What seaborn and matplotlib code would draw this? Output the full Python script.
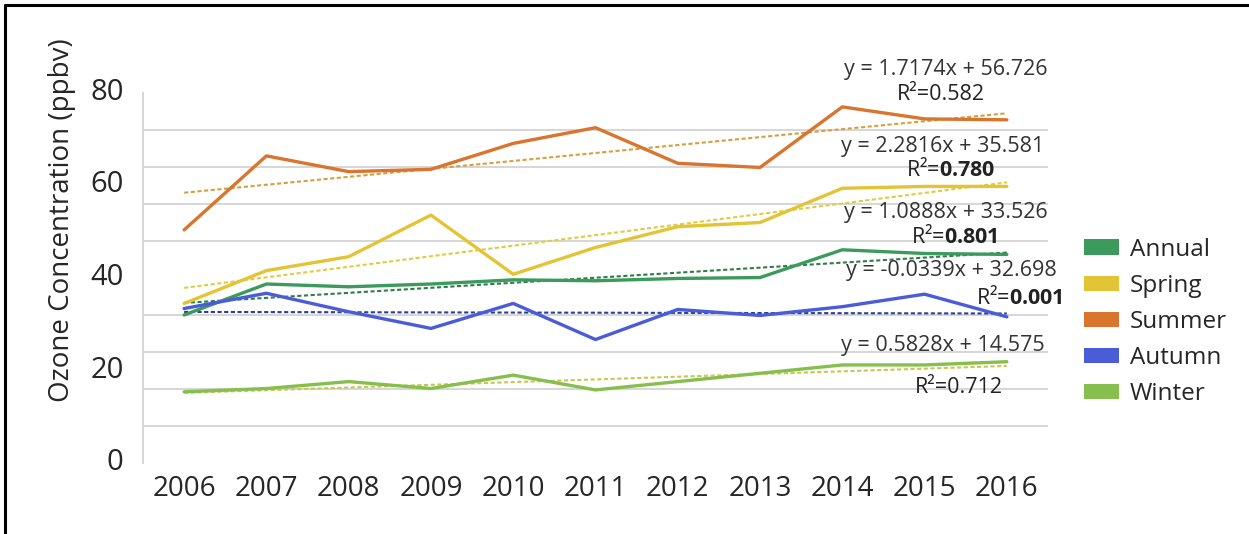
import numpy as np
import pandas as pd
import matplotlib
matplotlib.use("Agg")
import matplotlib.pyplot as plt
import matplotlib.transforms as mtransforms
from matplotlib.patches import Patch
from matplotlib.lines import Line2D
import seaborn as sns

years = [2006, 2007, 2008, 2009, 2010, 2011, 2012, 2013, 2014, 2015, 2016]
annual = [32.0, 38.7, 38.1, 38.7, 39.6, 39.4, 39.9, 40.1, 46.1, 45.3, 45.1]
spring = [34.5, 41.6, 44.6, 53.6, 40.8, 46.6, 51.1, 52.0, 59.4, 59.8, 59.8]
summer = [50.4, 66.4, 63.0, 63.5, 69.1, 72.5, 64.8, 63.9, 77.0, 74.4, 74.2]
autumn = [33.4, 36.7, 32.7, 29.1, 34.5, 26.7, 33.2, 31.9, 33.8, 36.5, 31.6]
winter = [15.4, 16.1, 17.6, 16.1, 19.0, 15.8, 17.6, 19.4, 21.2, 21.2, 21.9]

seasons = ["Annual", "Spring", "Summer", "Autumn", "Winter"]
slopes = [1.0888, 2.2816, 1.7174, -0.0339, 0.5828]
intercepts = [33.526, 35.581, 56.726, 32.698, 14.575]
r2_values = ["0.801", "0.780", "0.582", "0.001", "0.712"]
eq_labels = ["y = 1.0888x + 33.526", "y = 2.2816x + 35.581", "y = 1.7174x + 56.726",
             "y = -0.0339x + 32.698", "y = 0.5828x + 14.575"]

line_colors = ["#3c9a5c", "#e3c435", "#d9752e", "#4a5cd8", "#86bf4e"]
trend_colors = ["#2e7d4a", "#e0cc40", "#d4a040", "#2a3f9a", "#c8c850"]

sns.set_theme(style="white")
plt.rcParams["font.family"] = ["Open Sans", "DejaVu Sans"]
plt.rcParams["mathtext.fontset"] = "custom"
plt.rcParams["mathtext.rm"] = "Open Sans"
plt.rcParams["mathtext.bf"] = "Open Sans:bold"

df = pd.DataFrame({"Year": years * 5,
                   "Season": np.repeat(seasons, len(years)),
                   "Value": annual + spring + summer + autumn + winter})

fig = plt.figure(figsize=(12.49, 5.34), dpi=100)
ax = fig.add_axes([143 / 1249, 1 - 463 / 534, (1048 - 143) / 1249, (463 - 93) / 534])

ax.set_ylim(0, 80)
ax.set_xlim(2005.5, 2016.5)

# trendlines
xs = np.array(years)
for s, m, b, c in zip(seasons, slopes, intercepts, trend_colors):
    ax.plot(xs, m * (xs - 2005) + b, color=c, lw=1.5, ls=(0, (2, 1.2)), zorder=2)

sns.lineplot(data=df, x="Year", y="Value", hue="Season", palette=dict(zip(seasons, line_colors)),
             linewidth=2.4, legend=False, ax=ax, zorder=3, estimator=None)

ax.set_xticks(years)
ax.set_xticklabels([str(y) for y in years], fontsize=20, color="#262626")
ax.set_yticks([0, 20, 40, 60, 80])
ax.set_yticklabels(["0", "20", "40", "60", "80"], fontsize=21, color="#262626")
ax.set_yticks(np.arange(0, 81, 8), minor=True)
ax.xaxis.set_minor_locator(matplotlib.ticker.NullLocator())
ax.grid(False, which="major")
ax.grid(True, which="minor", axis="y", color="#d6d6d6", linewidth=1.4)
ax.set_axisbelow(True)
ax.tick_params(axis="both", which="both", length=0)
ax.tick_params(axis="x", pad=9)
ax.tick_params(axis="y", pad=14)
offset = mtransforms.ScaledTranslation(0, 4 / 100, fig.dpi_scale_trans)
for lbl in ax.get_yticklabels():
    lbl.set_transform(lbl.get_transform() + offset)

ax.set_xlabel("")
ax.set_ylabel("Ozone Concentration (ppbv)", fontsize=20, color="#262626")
ax.yaxis.set_label_coords(-0.074, 0.657)
for side in ["top", "right", "bottom"]:
    ax.spines[side].set_visible(False)
ax.spines["left"].set_color("#d6d6d6")
ax.spines["left"].set_linewidth(1.4)

# equation annotations
eq_pos = [(2015.26, 54.1), (2015.22, 68.5), (2015.26, 85.0), (2015.32, 41.7), (2015.22, 25.5)]
r2_pos = [(2015.36, 48.9), (2015.32, 63.4), (2015.2, 79.6), (2016.15, 35.7), (2015.42, 16.4)]
r2_bold = [True, True, False, True, False]
for lab, (x, y) in zip(eq_labels, eq_pos):
    ax.text(x, y, lab, fontsize=15.5, ha="center", va="center", color="#333333", clip_on=False)
for r, (x, y), bold in zip(r2_values, r2_pos, r2_bold):
    txt = "R²=$\\mathbf{" + r + "}$" if bold else "R²=" + r
    ax.text(x, y, txt, fontsize=15.5, ha="center", va="center", color="#222222", clip_on=False)

handles = [Patch(facecolor=c, edgecolor="none") for c in line_colors]
fig.legend(handles, seasons, loc="center left", bbox_to_anchor=(1062 / 1249, 1 - 322 / 534),
           frameon=False, fontsize=17.5, handlelength=1.45, handleheight=0.6, labelspacing=0.5,
           handletextpad=0.45)

# figure border (left and top)
fig.add_artist(Line2D([4.5 / 1249, 4.5 / 1249], [0, 1 - 4.5 / 534], color="black", lw=2.2,
                      transform=fig.transFigure))
fig.add_artist(Line2D([4.5 / 1249, 1], [1 - 4.5 / 534, 1 - 4.5 / 534], color="black", lw=2.2,
                      transform=fig.transFigure))

fig.savefig("out.png", dpi=100, facecolor="white")
